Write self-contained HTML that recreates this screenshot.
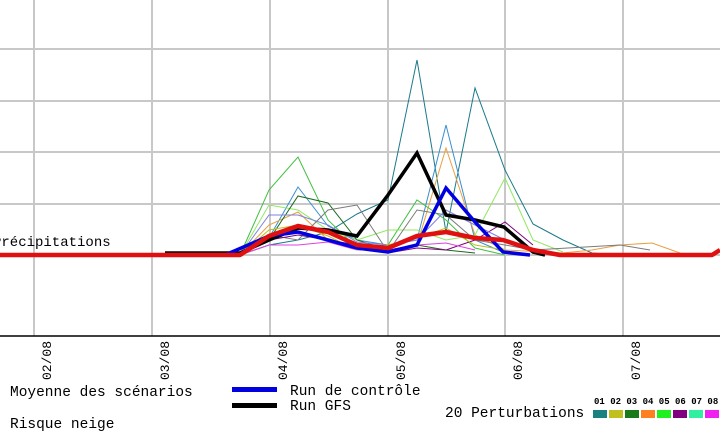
<!DOCTYPE html>
<html><head><meta charset="utf-8"><style>
html,body{margin:0;padding:0;background:#fff}
svg{display:block}
text{font-family:"Liberation Mono","DejaVu Sans Mono",monospace}
</style></head><body>
<svg width="720" height="433" viewBox="0 0 720 433" xmlns="http://www.w3.org/2000/svg">
<g stroke="#c8c8c8" stroke-width="2">
<line x1="0" y1="49" x2="720" y2="49"/><line x1="0" y1="101" x2="720" y2="101"/>
<line x1="0" y1="152" x2="720" y2="152"/><line x1="0" y1="204" x2="720" y2="204"/>
<line x1="0" y1="255" x2="720" y2="255"/>
<line x1="34" y1="0" x2="34" y2="336"/><line x1="152" y1="0" x2="152" y2="336"/>
<line x1="270" y1="0" x2="270" y2="336"/><line x1="388" y1="0" x2="388" y2="336"/>
<line x1="505" y1="0" x2="505" y2="336"/><line x1="623" y1="0" x2="623" y2="336"/>
</g>
<line x1="0" y1="336" x2="720" y2="336" stroke="#000" stroke-width="1.5"/>
<g fill="none" stroke-width="1">
<polyline stroke="#1a7a8a" points="240,255 269,245 298,240 328,232 357,214 388,200 417,60 446,232 475,88 505,170 533,224 563,240 592,253 620,255"/>
<polyline stroke="#3a8fd0" points="240,255 269,238 298,187 328,226 357,240 388,245 417,240 446,125 475,240 505,253"/>
<polyline stroke="#e8a040" points="240,255 269,225 298,212 328,240 357,245 388,250 417,245 446,148 475,235 505,250 563,253 592,250 620,245 652,243 680,253"/>
<polyline stroke="#40c040" points="240,255 269,190 298,157 328,220 357,248 388,245 417,200 446,220 475,248 505,255"/>
<polyline stroke="#90e860" points="240,255 269,205 298,210 328,230 357,240 388,230 417,230 446,240 475,235 505,178 533,240 563,252"/>
<polyline stroke="#1a6a1a" points="240,255 269,240 298,196 328,203 357,240 388,250 417,245 446,250 475,253"/>
<polyline stroke="#7a7a7a" points="240,255 269,235 298,240 328,210 357,205 388,252 417,210 446,215 475,240 505,245 533,250 620,245 650,250"/>
<polyline stroke="#800080" points="240,255 269,240 298,235 328,240 357,245 388,253 417,248 446,250 475,240 505,222 533,245"/>
<polyline stroke="#e040e0" points="240,255 269,245 298,245 328,242 357,250 388,250 417,245 446,243 475,250"/>
<polyline stroke="#8080e0" points="240,255 269,215 298,215 328,225 357,242 388,245 417,240 446,210 475,225 505,240 533,250"/>
<polyline stroke="#c0c020" points="240,255 269,230 298,225 328,236 357,250 388,245 417,238 446,228 475,245 505,250"/>
</g>
<polyline fill="none" stroke="#000" stroke-width="3.5" points="165,253 240,253 269,240 298,228 328,230 357,236 388,195 417,153 446,215 475,220 504,227 533,252 545,255"/>
<polyline fill="none" stroke="#0000e0" stroke-width="3.5" points="195,255 225,255 269,236 298,232 328,240 357,248 388,252 417,245 446,188 475,222 503,252 530,255"/>
<polyline fill="none" stroke="#e01010" stroke-width="4.5" stroke-linejoin="round" points="0,255 240,255 269,236 298,226 328,232 357,245 388,248 417,236 446,232 475,238 503,240 533,250 560,255 712,255 720,250"/>
<text x="-7" y="246" font-size="14" fill="#000">Précipitations</text>
<g font-size="13" fill="#000">
<text transform="translate(51,380) rotate(-90)">02/08</text>
<text transform="translate(169,380) rotate(-90)">03/08</text>
<text transform="translate(287,380) rotate(-90)">04/08</text>
<text transform="translate(405,380) rotate(-90)">05/08</text>
<text transform="translate(522,380) rotate(-90)">06/08</text>
<text transform="translate(640,380) rotate(-90)">07/08</text>
</g>
<g font-size="14.5" fill="#000">
<text x="10" y="396">Moyenne des scénarios</text>
<text x="10" y="428">Risque neige</text>
<text x="290" y="395">Run de contrôle</text>
<text x="290" y="410">Run GFS</text>
<text x="445" y="417">20 Perturbations</text>
</g>
<rect x="232" y="387" width="45" height="5" fill="#0000e0"/>
<rect x="232" y="403" width="45" height="5" fill="#000"/>
<g font-size="9" font-weight="bold" fill="#000">
<text x="594" y="404">01 02 03 04 05 06 07 08</text>
</g>
<g>
<rect x="593" y="410" width="14" height="8" fill="#1a8080"/>
<rect x="609" y="410" width="14" height="8" fill="#c0c020"/>
<rect x="625" y="410" width="14" height="8" fill="#1a7a1a"/>
<rect x="641" y="410" width="14" height="8" fill="#ff8020"/>
<rect x="657" y="410" width="14" height="8" fill="#20f020"/>
<rect x="673" y="410" width="14" height="8" fill="#800080"/>
<rect x="689" y="410" width="14" height="8" fill="#30f0a0"/>
<rect x="705" y="410" width="14" height="8" fill="#f020f0"/>
</g>
</svg>
</body></html>
